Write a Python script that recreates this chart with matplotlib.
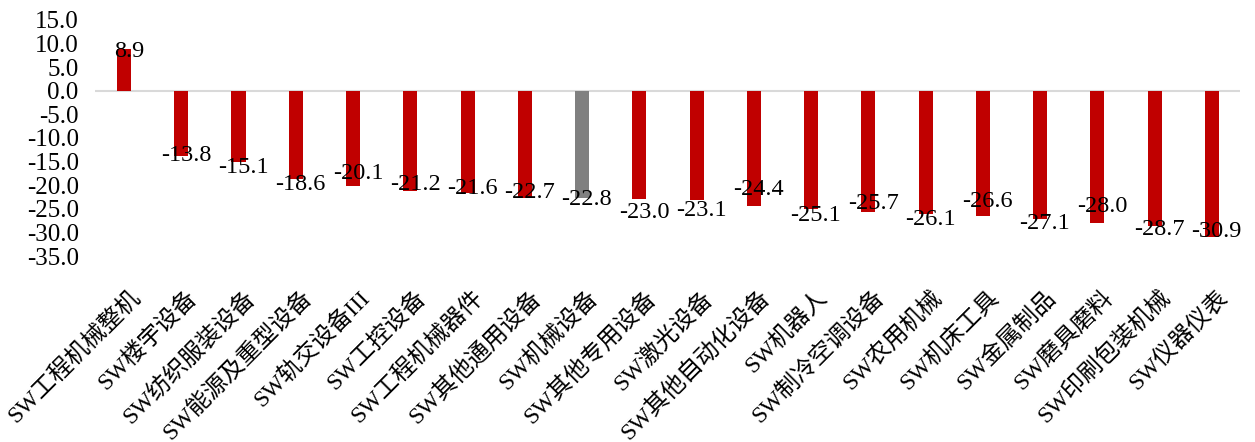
import matplotlib
matplotlib.use("Agg")
import matplotlib.pyplot as plt
import matplotlib.transforms as mtransforms
import numpy as np

categories = ["SW工程机械整机", "SW楼宇设备", "SW纺织服装设备", "SW能源及重型设备", "SW轨交设备III",
              "SW工控设备", "SW工程机械器件", "SW其他通用设备", "SW机械设备", "SW其他专用设备",
              "SW激光设备", "SW其他自动化设备", "SW机器人", "SW制冷空调设备", "SW农用机械",
              "SW机床工具", "SW金属制品", "SW磨具磨料", "SW印刷包装机械", "SW仪器仪表"]
values = [8.9, -13.8, -15.1, -18.6, -20.1, -21.2, -21.6, -22.7, -22.8, -23.0,
          -23.1, -24.4, -25.1, -25.7, -26.1, -26.6, -27.1, -28.0, -28.7, -30.9]
highlight = "SW机械设备"
yticks = [15, 10, 5, 0, -5, -10, -15, -20, -25, -30, -35]

# layout only: vertical nudge of each value label (pixels, downward), as placed in the original
label_nudge_px = [3, 0, 5, 6, -12, -6, -4, -5, 1, 13, 11, -16, 6, -9, 6, -15, 5, -16, 3, -5]

fam = ["Liberation Serif", "Noto Sans CJK SC"]
plt.rcParams['font.family'] = fam

fig = plt.figure(figsize=(12.55, 4.42), dpi=100)
ax = fig.add_axes([0.0760, 0.4208, 0.9124, 0.534])

x = np.arange(len(categories))
colors = ["#808080" if c == highlight else "#C00000" for c in categories]
ax.bar(x, values, width=0.245, color=colors, zorder=2)
ax.axhline(0, color="#d9d9d9", lw=1.5, zorder=1)

for xi, v, n in zip(x, values, label_nudge_px):
    ax.annotate(f"{v:.1f}", (xi, v), xytext=(3.5, -n * 0.72), textcoords="offset points",
                ha="center", va="center", fontsize=17.5, color="black", zorder=3)

ax.set_xlim(-0.5, len(categories) - 0.5)
ax.set_ylim(-35, 15)
ax.set_yticks(yticks)
ax.set_yticklabels([f"{t:.1f}" for t in yticks], fontsize=18)
ax.set_xticks(x)
ax.set_xticklabels(categories, rotation=45, ha="right", rotation_mode="anchor", fontsize=17)
ax.tick_params(axis="both", length=0)
ax.tick_params(axis="x", pad=22)
ax.tick_params(axis="y", pad=12)
for s in ax.spines.values():
    s.set_visible(False)

shift = mtransforms.ScaledTranslation(0.05, 0.0, fig.dpi_scale_trans)
for lab in ax.get_xticklabels():
    lab.set_transform(lab.get_transform() + shift)

fig.savefig("out.png", dpi=100)
